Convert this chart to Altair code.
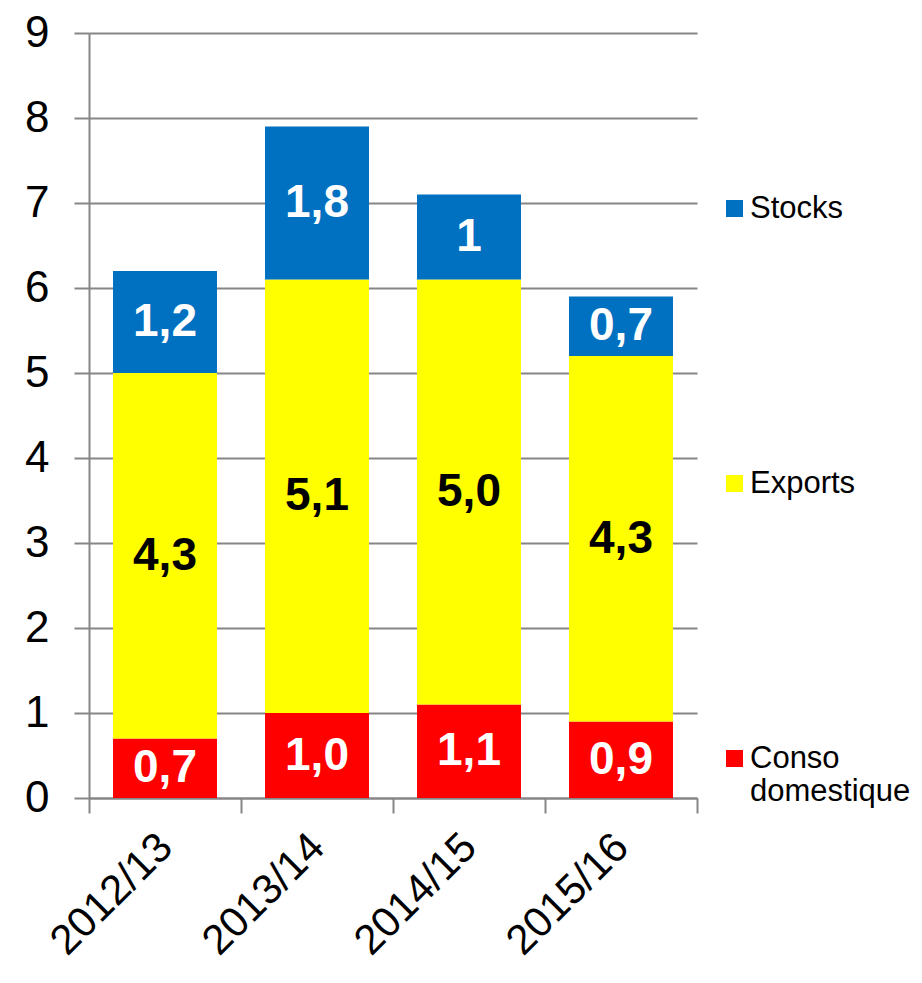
import altair as alt
import pandas as pd

seasons = ["2012/13", "2013/14", "2014/15", "2015/16"]
conso = [0.7, 1.0, 1.1, 0.9]
exports = [4.3, 5.1, 5.0, 4.3]
stocks = [1.2, 1.8, 1.0, 0.7]
conso_labels = ["0,7", "1,0", "1,1", "0,9"]
exports_labels = ["4,3", "5,1", "5,0", "4,3"]
stocks_labels = ["1,2", "1,8", "1", "0,7"]

legend_order = ["Stocks", "Exports", "Conso domestique"]
legend_colors = ["#0070C0", "#FFFF00", "#FF0000"]
y_ticks = list(range(0, 10))

rows = []
for i, s in enumerate(seasons):
    rows.append({"season": s, "series": "Conso domestique", "value": conso[i],
                 "label": conso_labels[i], "order": 0, "tc": "white"})
    rows.append({"season": s, "series": "Exports", "value": exports[i],
                 "label": exports_labels[i], "order": 1, "tc": "black"})
    rows.append({"season": s, "series": "Stocks", "value": stocks[i],
                 "label": stocks_labels[i], "order": 2, "tc": "white"})
df = pd.DataFrame(rows)

FONT = "Liberation Sans"
GRID = "#868686"

x_scale = alt.Scale(paddingInner=0, paddingOuter=0)

x_enc = alt.X(
    "season:N", sort=seasons, scale=x_scale,
    axis=alt.Axis(title=None, labelAngle=-45, labelAlign="right", labelBaseline="middle",
                  labelFont=FONT, labelFontSize=42, labelColor="black",
                  labelPadding=27, tickBand="extent", tickSize=15, tickColor=GRID,
                  tickWidth=2, domainColor=GRID, domainWidth=2, grid=False),
)

base = alt.Chart(df)

bars = base.mark_bar(width=alt.RelativeBandSize(0.684)).encode(
    x=x_enc,
    y=alt.Y("value:Q", stack="zero",
            scale=alt.Scale(domain=[0, 9], nice=False, zero=True),
            axis=alt.Axis(title=None, values=y_ticks, format="d", labelFont=FONT,
                          labelFontSize=44, labelColor="black", labelPadding=25,
                          tickSize=15, tickColor=GRID, tickWidth=2, domainColor=GRID,
                          domainWidth=2, grid=True, gridColor=GRID, gridWidth=2)),
    color=alt.Color("series:N",
                    scale=alt.Scale(domain=legend_order, range=legend_colors),
                    legend=alt.Legend(title=None, orient="none", legendX=630, legendY=160,
                                      symbolType="square", symbolSize=289,
                                      symbolStrokeWidth=0, labelFont=FONT,
                                      labelFontSize=31, labelColor="black",
                                      labelOffset=0, labelLimit=400, rowPadding=243,
                                      padding=0,
                                      labelExpr="datum.label == 'Conso domestique' ? ['Conso', 'domestique'] : datum.label")),
    order=alt.Order("order:Q"),
)

texts = base.transform_stack(
    stack="value", groupby=["season"], sort=[alt.SortField("order")], as_=["y0", "y1"]
).transform_calculate(
    mid="(datum.y0 + datum.y1) / 2"
).mark_text(font=FONT, fontWeight="bold", fontSize=46, baseline="middle").encode(
    x=alt.X("season:N", sort=seasons, scale=x_scale),
    y=alt.Y("mid:Q"),
    text="label:N",
    color=alt.Color("tc:N", scale=None, legend=None),
)

chart = alt.layer(bars, texts).properties(
    width=608, height=765,
    autosize=alt.AutoSizeParams(type="none"),
    padding={"left": 81, "top": 25, "right": 217, "bottom": 172},
    background="white",
).configure_view(stroke=None)

chart.save("out.html", embed_options={"renderer": "svg", "actions": False})
